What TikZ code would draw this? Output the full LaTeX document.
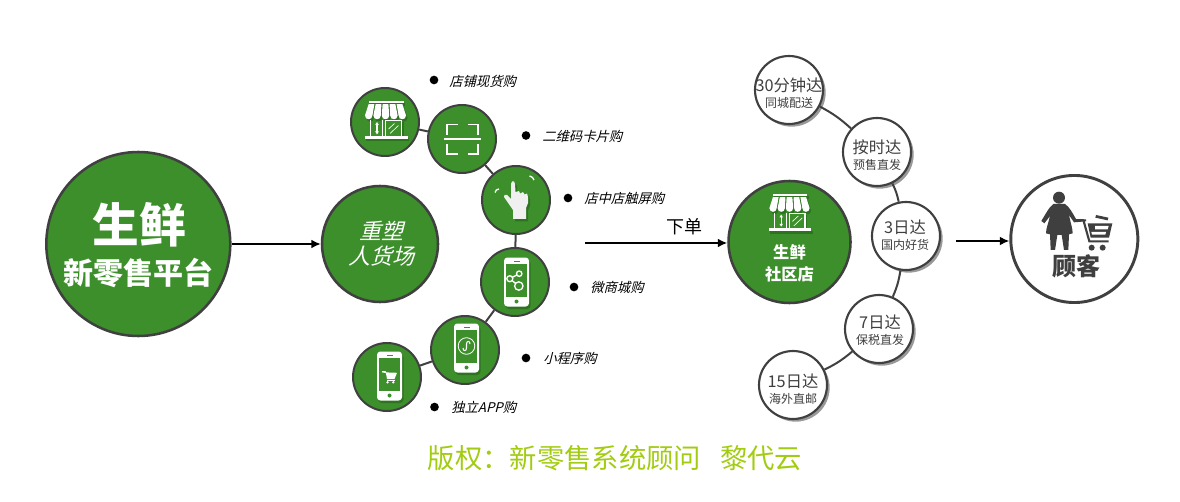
\documentclass[tikz,border=0pt]{standalone}
\usepackage{fontspec}
\setmainfont{Noto Sans CJK SC}
\newfontfamily\cjkslant[FakeSlant=0.25]{Noto Sans CJK SC}
\usetikzlibrary{shadows,arrows.meta}
\definecolor{leaf}{HTML}{3C8F2B}
\definecolor{leafdark}{HTML}{2E7320}
\definecolor{rim}{HTML}{404040}
\definecolor{ink}{HTML}{3F3F3F}
\definecolor{lime}{HTML}{A2CC12}
\tikzset{
  disc/.style={circle,draw=rim,line width=1.9pt,fill=leaf,inner sep=0pt},
  smalldisc/.style={disc,minimum size=51pt,line width=1.5pt},
  stopdisc/.style={circle,draw=rim,line width=1.6pt,fill=white,inner sep=0pt,minimum size=51pt,
    drop shadow={shadow xshift=2pt,shadow yshift=-2pt,opacity=.4,fill=black}},
  link/.style={draw=rim,line width=1.5pt},
  flow/.style={draw=black,line width=1.2pt,-{Latex[length=7pt,width=6.5pt]}},
  dotmark/.style={circle,fill=black,inner sep=0pt,minimum size=6.5pt},
  buylabel/.style={anchor=west,inner sep=0pt,font=\cjkslant\fontsize{10}{12}\selectfont,text=black},
  stoptext/.style={align=center,inner sep=0pt,text=ink},
  whitetext/.style={align=center,inner sep=0pt,text=white},
}
\newcommand\stoptxt[2]{{\fontsize{12.2}{13}\selectfont #1}\\{\fontsize{9}{12.6}\selectfont #2}}
% store icon: #1 colour, #2 x, #3 y, #4 scale
\newcommand\storeicon[4]{%
\begin{scope}[shift={(#2,#3)},scale=#4]
  \fill[#1] (-17,-21) rectangle (18,-18.8);
  \foreach \i in {-2,...,2}{
    \fill[#1] ({\i*7-2.9},-17.8) -- ({\i*7+2.9},-17.8) -- ({\i*8.4+3.7},-6.5)
       .. controls ({\i*8.4+3.7},-1.5) and ({\i*8.4-3.7},-1.5) .. ({\i*8.4-3.7},-6.5) -- cycle;
  }
  \fill[#1] (-21,14) rectangle (22,17);
  \fill[#1] (-16,-2) rectangle (-14.6,14);
  \fill[#1] (-3.5,-2) rectangle (-2.2,14);
  \fill[#1] (-0.5,-2) rectangle (0.8,14);
  \fill[#1] (15.2,-2) rectangle (16.6,14);
  \fill[#1] (-0.5,-2) rectangle (16.6,-0.8);
  \draw[#1,line width=.8pt] (-8.5,1.5) -- (-8.5,11);
  \fill[#1] (-10.3,3) -- (-8.5,0) -- (-6.7,3) -- cycle;
  \fill[#1] (-10.3,9.5) -- (-8.5,12.5) -- (-6.7,9.5) -- cycle;
  \draw[#1,line width=.5pt] (3,7) -- (9,1.5) (4.5,11.5) -- (13,3.5);
\end{scope}}
% clears the store front between the shadow copy and the white copy
\newcommand\storeclear[3]{%
\begin{scope}[shift={(#1,#2)},scale=#3]
  \fill[leaf] (-14.6,-0.8) rectangle (15.2,14);
\end{scope}}
% phone body
\newcommand\phonebody[3]{%
\begin{scope}[shift={(#2,#3)}]
  \fill[#1,rounded corners=2.5] (-12.5,-24.5) rectangle (12.5,24.5);
\end{scope}}
\newcommand\phonescreen[2]{%
\begin{scope}[shift={(#1,#2)}]
  \fill[leaf] (-10.5,-18) rectangle (10.5,14.5);
  \fill[leaf] (-3,-21.5) rectangle (3,-20.5);
  \fill[leaf] (0,19.5) circle[radius=2];
\end{scope}}
\begin{document}
\begin{tikzpicture}[x=0.75pt,y=-0.75pt]
\useasboundingbox (0,0) rectangle (1180,502);

% left main
\node[disc,minimum size=138pt] (main) at (138.3,244) {};
\node[whitetext,font=\bfseries\fontsize{35}{40}\selectfont] (mainA) at (139,225) {生鲜};
\node[whitetext,font=\bfseries\fontsize{22.5}{26}\selectfont] (mainB) at (138,273) {新零售平台};

\node[disc,minimum size=87pt] (reshape) at (380,244) {};
\node[whitetext,font=\cjkslant\fontsize{16.5}{18.5}\selectfont] (reshapeT) at (381,244) {重塑\\人货场};
\draw[flow] (main) -- (reshape);

% small discs
\node[smalldisc] (store) at (385,122) {};
\node[smalldisc] (scan) at (462,139) {};
\node[smalldisc] (touch) at (516,200) {};
\node[smalldisc] (wechat) at (515,282) {};
\node[smalldisc] (mini) at (465,350) {};
\node[smalldisc] (appd) at (387,377) {};
\draw[link] (store) -- (scan);
\draw[link] (scan) -- (touch);
\draw[link] (touch) -- (wechat);
\draw[link] (wechat) -- (mini);
\draw[link] (mini) -- (appd);

% store icon
\storeicon{leafdark}{387}{124.5}{1}
\storeclear{385.5}{122}{1}
\storeicon{white}{385.5}{122}{1}

% scan icon
\begin{scope}[shift={(462,139)}]
  \draw[white,line width=1.2pt] (-4,-14.5) -- (-15,-14.5) -- (-15,-4);
  \draw[white,line width=1.2pt] (6,-14.5) -- (16,-14.5) -- (16,-4);
  \draw[white,line width=1.2pt] (-4,15) -- (-15,15) -- (-15,5);
  \draw[white,line width=1.2pt] (6,15) -- (16,15) -- (16,5);
  \draw[white,line width=1.5pt] (-18.5,0.5) -- (19,0.5);
\end{scope}

% touch icon
\begin{scope}[shift={(516,200)}]
  \fill[leafdark,shift={(2,2.5)}] (-5,-16) -- (-4,-18.5) -- (-2,-18.5) -- (-1,-16) -- (-0.5,-8) -- (3,-9) -- (4,-6.5) -- (7,-8) -- (8.5,-5.5) -- (11,-6.5) -- (12,-3) -- (12,3) -- (10,8) -- (10,19) -- (-3,19) -- (-3,10) -- (-12,-3) -- (-11.5,-5) -- (-9,-5) -- (-5,-1) -- cycle;
  \fill[white!94!black] (-5,-16) -- (-4,-18.5) -- (-2,-18.5) -- (-1,-16) -- (-0.5,-8) -- (3,-9) -- (4,-6.5) -- (7,-8) -- (8.5,-5.5) -- (11,-6.5) -- (12,-3) -- (12,3) -- (10,8) -- (10,19) -- (-3,19) -- (-3,10) -- (-12,-3) -- (-11.5,-5) -- (-9,-5) -- (-5,-1) -- cycle;
  \draw[white,line width=1pt] (-21,-7.5) .. controls (-20.5,-9.5) and (-19,-11) .. (-17,-11);
  \draw[white,line width=1pt] (13.5,-24) .. controls (16,-23.5) and (17.5,-22) .. (18,-20);
\end{scope}

% phones
\phonebody{leafdark}{518}{284.5}
\phonebody{white}{516.5}{282}
\phonescreen{516.5}{282}
\begin{scope}[shift={(516.5,282)},white,line width=1pt]
  \draw (2.7,-8.3) -- (-6.7,-3.3) -- (2.3,4);
  \draw[fill=leaf] (2.7,-8.3) circle[radius=2.7];
  \draw[fill=leaf] (-6.7,-3.3) circle[radius=3];
  \draw[fill=leaf] (2.3,4) circle[radius=4.2];
\end{scope}

\phonebody{leafdark}{468}{350.5}
\phonebody{white}{466.5}{348}
\phonescreen{466.5}{348}
\begin{scope}[shift={(466.5,348)},white]
  \draw[line width=.6pt] (0,-2) circle[radius=8.3];
  \draw[line width=.8pt] (-3.5,0) .. controls (-3.5,3.5) and (0,3.5) .. (0,0) -- (0,-4) .. controls (0,-7.5) and (3.5,-7.5) .. (3.5,-4);
\end{scope}

\phonebody{leafdark}{391}{378.5}
\phonebody{white}{389.5}{376}
\phonescreen{389.5}{376}
\begin{scope}[shift={(389.5,376)},white]
  \fill (-7.5,-5) -- (-4,-5) -- (-3.4,-3.6) -- (7.5,-3.2) -- (5,3) -- (-2.5,3) -- (-3.6,-3) -- (-7.5,-3.6) -- cycle;
  \fill (-3,3.6) rectangle (5,4.8);
  \fill (-2,6.3) circle[radius=1.3];
  \fill (3.8,6.3) circle[radius=1.3];
\end{scope}

% labels
\node[dotmark] (d1) at (434,80) {};
\node[buylabel] (l1) at (449,81) {店铺现货购};
\node[dotmark] (d2) at (526,135.5) {};
\node[buylabel] (l2) at (542,136) {二维码卡片购};
\node[dotmark] (d3) at (568,198) {};
\node[buylabel] (l3) at (584,198.5) {店中店触屏购};
\node[dotmark] (d4) at (574,287) {};
\node[buylabel] (l4) at (590,287) {微商城购};
\node[dotmark] (d5) at (526,358) {};
\node[buylabel] (l5) at (543,358) {小程序购};
\node[dotmark] (d6) at (434.5,407) {};
\node[buylabel] (l6) at (451,407) {独立APP购};

% community store
\node[disc,minimum size=91.5pt] (shop) at (789.5,242) {};
\storeicon{leafdark}{791}{217}{.98}
\storeclear{789.5}{214.5}{.98}
\storeicon{white}{789.5}{214.5}{.98}
\node[whitetext,font=\bfseries\fontsize{12.2}{16.5}\selectfont] (shopT) at (789.5,263.5) {生鲜\\社区店};
\coordinate (orderStart) at (585,243);
\draw[flow] (orderStart) -- (orderStart -| shop.west);
\node[inner sep=0pt,font=\fontsize{13.5}{16}\selectfont,text=black] (order) at (684,227) {下单};

% delivery discs
\node[stopdisc] (s1) at (789,90) {};
\node[stopdisc] (s2) at (877,152) {};
\node[stopdisc] (s3) at (906,236) {};
\node[stopdisc] (s4) at (879,329) {};
\node[stopdisc] (s5) at (793,385) {};
\draw[link] (s1) to[bend left=7] (s2);
\draw[link] (s2) to[bend left=7] (s3);
\draw[link] (s3) to[bend left=7] (s4);
\draw[link] (s4) to[bend left=7] (s5);
\node[stoptext] (t1) at (789,93.5) {\stoptxt{30分钟达}{同城配送}};
\node[stoptext] (t2) at (877,155.5) {\stoptxt{按时达}{预售直发}};
\node[stoptext] (t3) at (905,235) {\stoptxt{3日达}{国内好货}};
\node[stoptext] (t4) at (880,330) {\stoptxt{7日达}{保税直发}};
\node[stoptext] (t5) at (793,389) {\stoptxt{15日达}{海外直邮}};

% customer
\node[circle,draw=rim,line width=2.2pt,fill=white,inner sep=0pt,minimum size=95.3pt] (cust) at (1074.3,239) {};
\coordinate (custStart) at (956,241);
\draw[flow] (custStart) -- (custStart -| cust.west);
\begin{scope}[shift={(1000,170)},scale=1/3,ink]
  \fill (177,83) circle[radius=18];
  \fill (160,102) -- (195,102) .. controls (208,110) and (218,130) .. (228,147) -- (258,148) -- (258,154) -- (222,157) -- (207,135)
     .. controls (212,160) and (218,175) .. (218,190) -- (207,193) -- (205,240) -- (192,240) -- (185,195) -- (172,195) -- (165,240) -- (152,240) -- (150,193) -- (138,190)
     .. controls (138,175) and (145,160) .. (150,138) -- (133,160) -- (124,153) .. controls (135,135) and (148,110) .. (160,102) -- cycle;
  \draw[line width=1.6pt] (250,150) -- (268,214) -- (326,214);
  \fill (288,135) -- (325,143) -- (323,151) -- (286,143) -- cycle;
  \fill (263,160) -- (337,160) -- (327,203) -- (272,203) -- cycle;
  \fill[white] (285,168) -- (326,168) -- (323,178) -- (285,178) -- cycle;
  \fill[white] (274,186) -- (318,186) -- (316,194) -- (276,194) -- cycle;
  \fill (275,233) circle[radius=9];
  \fill (308,233) circle[radius=9];
\end{scope}
\node[inner sep=0pt,text=ink,font=\bfseries\fontsize{18}{20}\selectfont] (custT) at (1076,266) {顾客};

% credit
\node[inner sep=0pt,text=lime,font=\fontsize{20.5}{24}\selectfont] (credit) at (615,458) {版权：新零售系统顾问\hspace{.7em}黎代云};
\end{tikzpicture}
\end{document}
